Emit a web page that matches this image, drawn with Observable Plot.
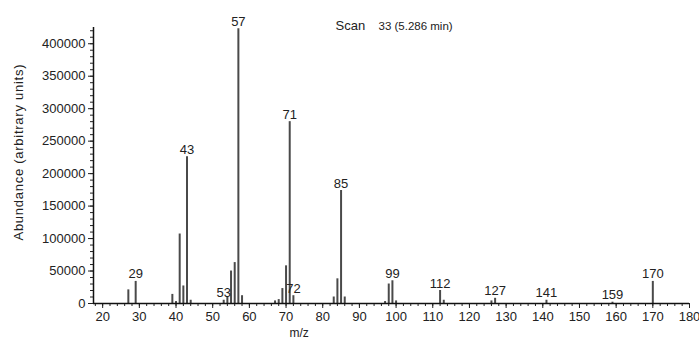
<!DOCTYPE html>
<html>
<head>
<meta charset="utf-8">
<script src="https://cdn.jsdelivr.net/npm/d3@7"></script>
<script src="https://cdn.jsdelivr.net/npm/@observablehq/plot@0.6"></script>
<style>
  html, body { margin: 0; padding: 0; background: #fff; }
  #chart { width: 699px; height: 345px; }
</style>
</head>
<body>
<div id="chart"></div>
<script>
// m/z values and their abundances
const mz        = [27, 29, 39, 40, 41, 42, 43, 44, 53, 54, 55, 56, 57, 58, 67, 68, 69, 70, 71, 72, 83, 84, 85, 86, 97, 98, 99, 100, 112, 113, 126, 127, 141, 159, 170];
const abundance = [21000, 34000, 14000, 3000, 107000, 27000, 226000, 5000, 5000, 10000, 50000, 63000, 423000, 12000, 4000, 6000, 23000, 58000, 280000, 12000, 10000, 38000, 174000, 10000, 3000, 30000, 35000, 4000, 20000, 5000, 4000, 8000, 5000, 2000, 34000];

// labelled peaks
const labelledPeaks = [29, 43, 53, 57, 71, 72, 85, 99, 112, 127, 141, 159, 170];

// axes
const xDomain = [17.5, 180];
const yDomain = [0, 425000];
const xTicks = [20, 30, 40, 50, 60, 70, 80, 90, 100, 110, 120, 130, 140, 150, 160, 170, 180];
const yTicks = [0, 50000, 100000, 150000, 200000, 250000, 300000, 350000, 400000];
const xMinorTicks = d3.range(18, 181, 2);
const yMinorTicks = d3.range(0, 420001, 10000);

const titleMain = "Scan";
const titleSub = "33 (5.286 min)";
const xLabel = "m/z";
const yLabel = "Abundance (arbitrary units)";

const peaks = mz.map((m, i) => ({mz: m, ab: abundance[i]}));
const lookup = new Map(peaks.map(d => [d.mz, d.ab]));
const labels = labelledPeaks.map(m => ({mz: m, ab: lookup.get(m), text: String(m)}));

const font = "'Liberation Sans', Arial, sans-serif";

const chart = Plot.plot({
  width: 699,
  height: 345,
  marginLeft: 93,
  marginRight: 10,
  marginTop: 27,
  marginBottom: 42,
  x: {domain: xDomain},
  y: {domain: yDomain},
  style: {fontFamily: font, fontSize: "13px", color: "#222", background: "#fff"},
  marks: [
    Plot.ruleX(peaks, {x: "mz", y1: 0, y2: "ab", stroke: "#4a4a4a", strokeWidth: 2}),
    Plot.text(labels, {x: "mz", y: "ab", text: "text", lineAnchor: "bottom", dy: -3, fontSize: 13, fill: "#222"}),
    Plot.axisX({ticks: xMinorTicks, tickSize: 3, text: null, label: null, stroke: "#222"}),
    Plot.axisX({ticks: xTicks, tickSize: 5, tickPadding: 3, tickFormat: d => String(d), label: null, fontSize: 13, stroke: "#222"}),
    Plot.axisY({ticks: yMinorTicks, tickSize: 3, text: null, label: null, stroke: "#222"}),
    Plot.axisY({ticks: yTicks, tickSize: 5, tickPadding: 3, tickFormat: d => String(d), label: null, fontSize: 13, stroke: "#222"}),
    Plot.ruleY([yDomain[0]], {stroke: "#111", strokeWidth: 1.5}),
    Plot.ruleX([xDomain[0]], {stroke: "#111", strokeWidth: 1.5}),
    Plot.text([yLabel], {frameAnchor: "left", rotate: -90, textAnchor: "start", dx: -75, dy: 75, fontSize: 13, fill: "#222", className: "ylabel"}),
    Plot.text([xLabel], {frameAnchor: "bottom-left", dx: 196, dy: 33, fontSize: 12, fill: "#222"}),
    Plot.text([titleMain], {frameAnchor: "top-left", textAnchor: "start", dx: 242, dy: -7, fontSize: 13, fill: "#222"}),
    Plot.text([titleSub], {frameAnchor: "top-left", textAnchor: "start", dx: 285, dy: -6, fontSize: 11.5, fill: "#222"})
  ]
});

// stretch the rotated y label to the length it has in the reference
d3.select(chart).selectAll("g.ylabel text")
  .attr("textLength", 176)
  .attr("lengthAdjust", "spacing");

document.getElementById("chart").appendChild(chart);
</script>
</body>
</html>
